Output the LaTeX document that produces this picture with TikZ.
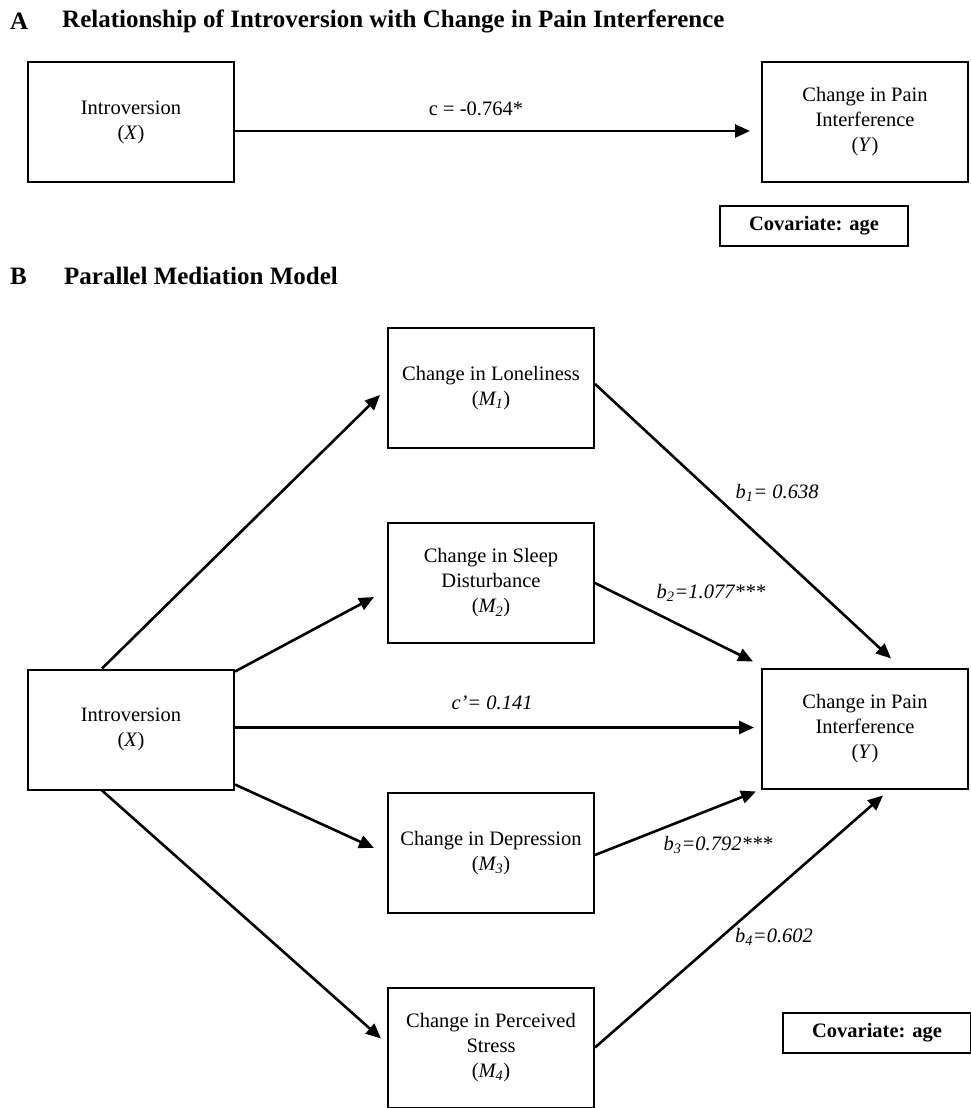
\documentclass[tikz,border=0pt]{standalone}
\usepackage{fontspec}
\setmainfont{Liberation Serif}
\usetikzlibrary{arrows.meta}

\begin{document}
\begin{tikzpicture}[x=1pt,y=-1pt]
		\tikzstyle{every node}+=[inner sep=0pt,font=\fontsize{20.5}{25}\selectfont]
		\tikzstyle{var}=[draw,line width=2pt,minimum width=206pt,minimum height=120pt,align=center]
		\tikzstyle{cov}=[draw,line width=1.8pt,minimum width=188pt,minimum height=40pt,font=\fontsize{20.5}{25}\selectfont\bfseries]
		\tikzstyle{ttl}=[anchor=west,font=\fontsize{25}{30}\selectfont\bfseries]
		\tikzstyle{arr}=[line width=2.6pt,-{Triangle[length=15pt,width=13pt]}]
		\useasboundingbox (0,0) rectangle (971,1108);
		% panel A
		\node [ttl] (tA) at (10,21) {A};
		\node [ttl] (titleA) at (62,21) {Relationship of Introversion with Change in Pain Interference};
		\node [var] (xa) at (131,122) {Introversion\\(\textit{X})};
		\node [var] (ya) at (865,122) {Change in Pain\\Interference\\(\textit{Y})};
		\node [cov] (cova) at (814,226) {Covariate: age};
		\draw [arr] ([yshift=-9pt]xa.east) -- ([xshift=-11pt,yshift=-9pt]ya.west);
		\node (c) at (476,109) {c = -0.764*};
		% panel B
		\node [ttl] (tB) at (10,276) {B};
		\node [ttl] (titleB) at (64,276) {Parallel Mediation Model};
		\node [var] (x) at (131,729.5) {Introversion\\(\textit{X})};
		\node [var] (y) at (865,728.5) {Change in Pain\\Interference\\(\textit{Y})};
		\node [var] (m1) at (491,388) {Change in Loneliness\\(\textit{M\textsubscript{1}})};
		\node [var] (m2) at (491,583) {Change in Sleep\\Disturbance\\(\textit{M\textsubscript{2}})};
		\node [var] (m3) at (491,853) {Change in Depression\\(\textit{M\textsubscript{3}})};
		\node [var] (m4) at (491,1047.5) {Change in Perceived\\Stress\\(\textit{M\textsubscript{4}})};
		\node [cov] (covb) at (877,1033) {Covariate: age};
		\draw [arr] ([xshift=-29pt]x.north) -- ([xshift=-7pt,yshift=-7pt]m1.west);
		\draw [arr] ([yshift=-3pt]x.north east) -- ([xshift=-13pt,yshift=-14pt]m2.west);
		\draw [arr] ([yshift=2pt]x.east) -- ([xshift=-7pt,yshift=1pt]y.west);
		\draw [arr] ([yshift=6pt]x.south east) -- ([xshift=-13pt,yshift=5pt]m3.west);
		\draw [arr] ([xshift=-29pt]x.south) -- ([xshift=-6pt,yshift=9pt]m4.west);
		\draw [arr] ([yshift=4pt]m1.east) -- ([xshift=26pt,yshift=9pt]y.north);
		\draw [arr] (m2.east) -- ([xshift=-8pt,yshift=6pt]y.north west);
		\draw [arr] ([yshift=-2pt]m3.east) -- ([xshift=-5pt,yshift=-2pt]y.south west);
		\draw [arr] (m4.east) -- ([xshift=18pt,yshift=-6pt]y.south);
		\node (cp) at (492,703) {\textit{c’= 0.141}};
		\node (b1) at (777,493) {\textit{b\textsubscript{1}= 0.638}};
		\node (b2) at (711,593) {\textit{b\textsubscript{2}=1.077***}};
		\node (b3) at (718,845) {\textit{b\textsubscript{3}=0.792***}};
		\node (b4) at (774,937) {\textit{b\textsubscript{4}=0.602}};
	\end{tikzpicture}
\end{document}
